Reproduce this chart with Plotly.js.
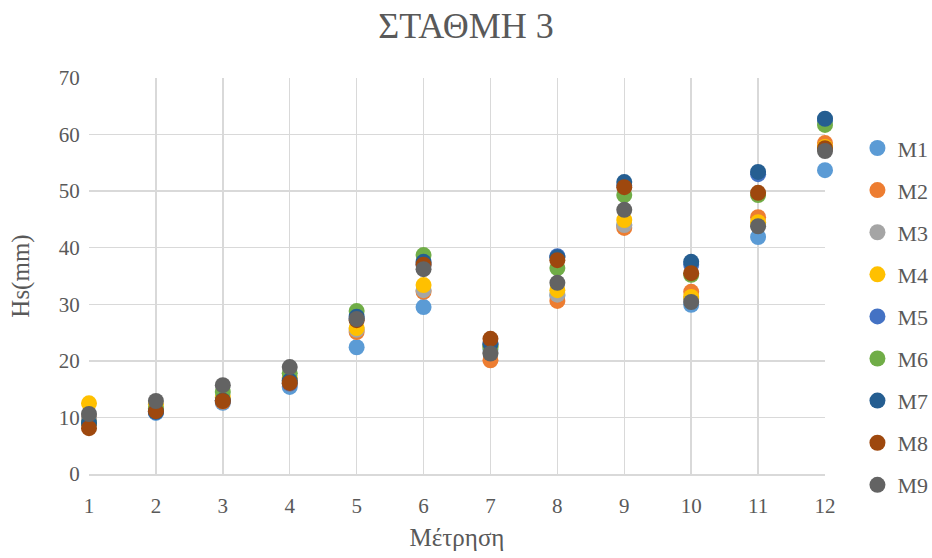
<!DOCTYPE html>
<html>
<head>
<meta charset="utf-8">
<script src="https://cdn.plot.ly/plotly-3.0.1.min.js"></script>
<style>html,body{margin:0;padding:0;background:#fff;}#chart{width:932px;height:558px;}</style>
</head>
<body>
<div id="chart"></div>
<script>
const measurements = [1,2,3,4,5,6,7,8,9,10,11,12];
const seriesNames = ["M1","M2","M3","M4","M5","M6","M7","M8","M9"];
const M1 = [9.5, 10.8, 12.6, 15.4, 22.4, 29.5, 22.0, 31.5, 44.0, 29.9, 41.9, 53.7];
const M2 = [10.0, 11.2, 12.8, 16.0, 25.1, 32.2, 20.1, 30.6, 43.5, 32.2, 45.4, 58.5];
const M3 = [10.0, 11.5, 13.0, 16.5, 25.5, 32.5, 21.5, 31.7, 44.0, 31.0, 44.0, 57.5];
const M4 = [12.5, 12.3, 13.5, 17.0, 25.8, 33.4, 22.5, 32.5, 44.9, 31.3, 44.5, 57.8];
const M5 = [9.0, 11.0, 13.0, 16.0, 27.5, 37.0, 23.0, 38.5, 51.0, 37.0, 53.0, 62.5];
const M6 = [9.0, 11.5, 14.5, 17.8, 28.8, 38.7, 22.5, 36.4, 49.3, 35.2, 49.3, 61.7];
const M7 = [9.0, 11.0, 13.0, 16.5, 27.8, 37.5, 23.0, 38.3, 51.6, 37.5, 53.4, 62.8];
const M8 = [8.1, 11.1, 12.9, 16.1, 27.2, 37.0, 23.9, 37.8, 50.7, 35.5, 49.7, 57.6];
const M9 = [10.6, 12.9, 15.7, 18.9, 27.4, 36.2, 21.3, 33.8, 46.7, 30.4, 43.8, 57.1];
const allSeries = [M1,M2,M3,M4,M5,M6,M7,M8,M9];
const colors = ["#5B9BD5","#ED7D31","#A5A5A5","#FFC000","#4472C4","#70AD47","#255E91","#9E480E","#636363"];

const font = "Liberation Serif, Times New Roman, serif";
const traces = allSeries.map((ys, i) => ({
  type: "scatter",
  mode: "markers",
  name: seriesNames[i],
  legendgroup: seriesNames[i],
  x: measurements,
  y: ys,
  cliponaxis: false,
  marker: {size: 16, color: colors[i]}
}));

const layout = {
  width: 932, height: 558,
  margin: {l: 89, r: 107, t: 78, b: 84},
  paper_bgcolor: "#fff", plot_bgcolor: "#fff",
  font: {family: font, color: "#595959", size: 21},
  title: {text: "ΣΤΑΘΜΗ 3", font: {family: font, size: 36, color: "#595959"}, x: 0.5, xanchor: "center", y: 0.955, yanchor: "middle"},
  xaxis: {
    range: [1, 12], tickvals: measurements, ticktext: measurements.map(String),
    showgrid: true, gridcolor: "#D9D9D9", gridwidth: 1.5,
    zeroline: false, showline: true, linecolor: "#D9D9D9", linewidth: 1.5,
    ticks: "outside", ticklen: 12, tickcolor: "rgba(0,0,0,0)",
    tickfont: {family: font, size: 21, color: "#595959"},
    title: {text: "Μέτρηση", font: {family: font, size: 25, color: "#595959"}, standoff: 12},
    automargin: false,
    fixedrange: true
  },
  yaxis: {
    range: [0, 70], dtick: 10, tick0: 0,
    showgrid: true, gridcolor: "#D9D9D9", gridwidth: 1.5,
    zeroline: false, showline: false, ticks: "outside", ticklen: 4, tickcolor: "rgba(0,0,0,0)",
    tickfont: {family: font, size: 21, color: "#595959"},
    title: {text: "Hs(mm)", font: {family: font, size: 25, color: "#595959"}, standoff: 22},
    automargin: false,
    fixedrange: true
  },
  showlegend: true,
  legend: {
    xref: "container", yref: "container",
    x: 0.92, xanchor: "left", y: 0.772, yanchor: "top",
    maxheight: 520,
    font: {family: font, size: 22, color: "#595959"},
    traceorder: "grouped", tracegroupgap: 10.5,
    itemwidth: 30, bgcolor: "rgba(0,0,0,0)"
  }
};
Plotly.newPlot("chart", traces, layout, {displayModeBar: false, staticPlot: true});
</script>
</body>
</html>
